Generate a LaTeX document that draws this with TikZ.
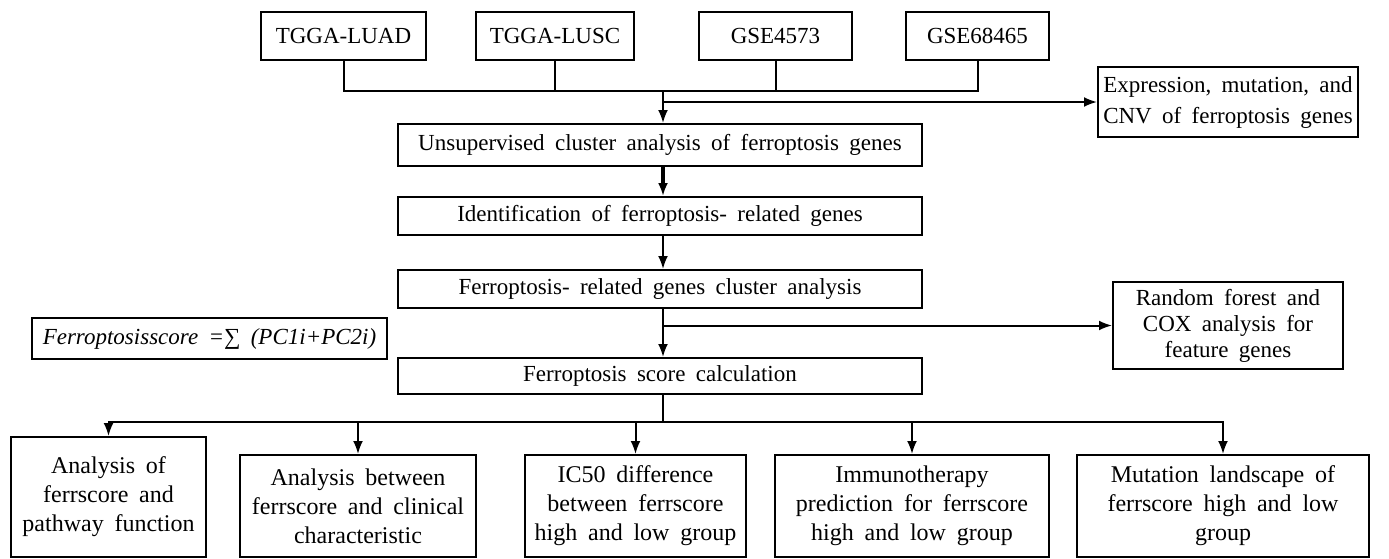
\documentclass[tikz,border=0pt]{standalone}
\usepackage{fontspec}
\setmainfont{Liberation Serif}[WordSpace=1.8]
\usetikzlibrary{arrows.meta}

\begin{document}
\begin{tikzpicture}[x=0.5pt,y=-0.5pt,
	box/.style={draw, line width=1pt, inner sep=1pt, align=center,
		font=\fontsize{11.5}{15.5}\selectfont},
	link/.style={line width=1pt},
	arr/.style={line width=1pt, -{Latex[length=6.5pt,width=5pt]}}]
		\useasboundingbox (0,0) rectangle (1389,558);
		% data sets
		\node[box, minimum width=82.5pt, minimum height=24pt] (luad) at (343.5,36) {TGGA-LUAD};
		\node[box, minimum width=79pt, minimum height=24pt] (lusc) at (555,36) {TGGA-LUSC};
		\node[box, minimum width=76.5pt, minimum height=24pt] (gseA) at (775.5,36) {GSE4573};
		\node[box, minimum width=71.5pt, minimum height=24pt] (gseB) at (977.5,36) {GSE68465};
		\coordinate (merge) at (663,91);
		\draw[link] (luad.south) |- (merge) -| (gseB.south);
		\draw[link] (lusc.south) -- (lusc.south |- merge);
		\draw[link] (gseA.south) -- (gseA.south |- merge);
		
		% main steps
		\node[box, minimum width=262pt, minimum height=21pt] (unsup) at (660,145)
			{Unsupervised cluster analysis of ferroptosis genes};
		\node[box, minimum width=262pt, minimum height=19pt] (ident) at (660,216)
			{Identification of ferroptosis- related genes};
		\node[box, minimum width=262pt, minimum height=19pt] (frel) at (660,289)
			{Ferroptosis- related genes cluster analysis};
		\node[box, minimum width=262pt, minimum height=18pt] (score) at (660,376)
			{Ferroptosis score calculation};
		\node[box, minimum width=130pt, minimum height=35pt] (expr) at (1228,102)
			{Expression, mutation, and\\CNV of ferroptosis genes};
		\node[box, minimum width=115pt, minimum height=43.5pt,
			font=\fontsize{11.5}{13}\selectfont] (forest) at (1228,325.5)
			{Random forest and\\COX analysis for\\feature genes};
		\node[box, minimum width=177.5pt, minimum height=20.5pt,
			font=\fontsize{11.5}{15}\selectfont\itshape] (formula) at (209.5,338.5)
			{Ferroptosisscore =∑ (PC1i+PC2i)};
		
		\draw[arr] (merge) -- (merge |- unsup.north);
		\draw[arr] (merge |- expr.west) -- (expr.west);
		\draw[arr, line width=1.6pt] (merge |- unsup.south) -- (merge |- ident.north);
		\draw[arr] (merge |- ident.south) -- (merge |- frel.north);
		\draw[arr] (merge |- frel.south) -- (merge |- score.north);
		\draw[arr] (merge |- forest.west) -- (forest.west);
		
		% results
		\node[box, minimum width=97.5pt, minimum height=60pt,
			font=\fontsize{12}{14.5}\selectfont] (resA) at (108.5,497)
			{Analysis of\\ferrscore and\\pathway function};
		\node[box, minimum width=118pt, minimum height=51pt,
			font=\fontsize{12}{14.5}\selectfont] (resB) at (358,506)
			{Analysis between\\ferrscore and clinical\\characteristic};
		\node[box, minimum width=110.5pt, minimum height=51pt,
			font=\fontsize{12}{14.5}\selectfont] (resC) at (635.5,506)
			{IC50 difference\\between ferrscore\\high and low group};
		\node[box, minimum width=137pt, minimum height=51pt,
			font=\fontsize{12}{14.5}\selectfont] (resD) at (912,506)
			{Immunotherapy\\prediction for ferrscore\\high and low group};
		\node[box, minimum width=146pt, minimum height=51pt,
			font=\fontsize{12}{14.5}\selectfont] (resE) at (1223,506)
			{Mutation landscape of\\ferrscore high and low\\group};
		\coordinate (fork) at (663,422);
		\draw[link] (merge |- score.south) -- (fork);
		\foreach \r in {resA,resB,resC,resD,resE}
			\draw[arr] (fork) -| (\r.north);
	\end{tikzpicture}
\end{document}
